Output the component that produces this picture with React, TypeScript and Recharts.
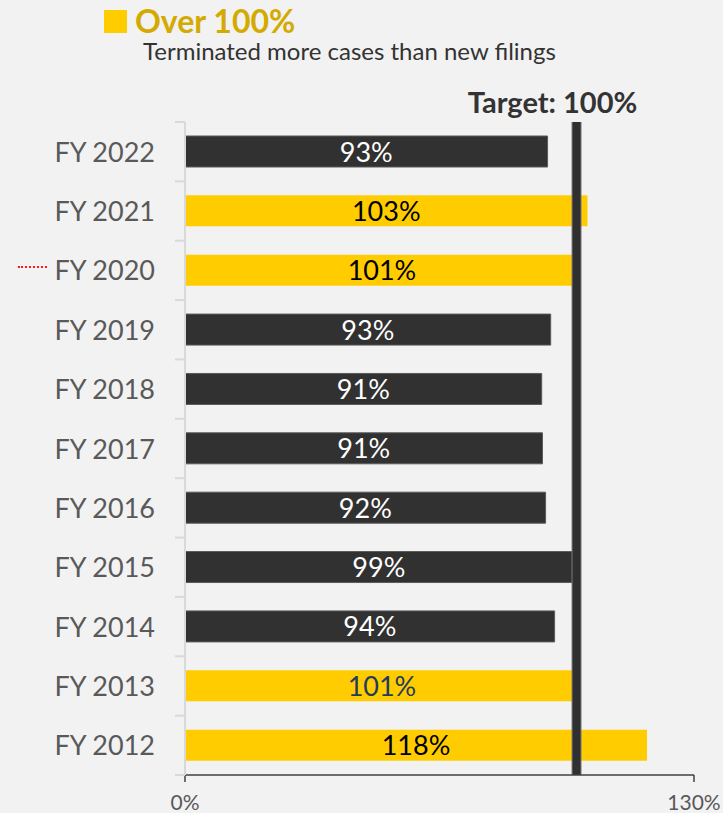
import { Bar, BarChart, Cell, LabelList, ReferenceLine, XAxis, YAxis } from "recharts";

const categories = [
  "FY 2022",
  "FY 2021",
  "FY 2020",
  "FY 2019",
  "FY 2018",
  "FY 2017",
  "FY 2016",
  "FY 2015",
  "FY 2014",
  "FY 2013",
  "FY 2012",
];

// bar lengths (labels show the rounded value)
const clearanceRates = [92.6, 102.8, 100.6, 93.4, 91.1, 91.3, 92.1, 99.0, 94.4, 100.6, 118.0];

const xTicks = [0, 130];
const target = 100;
const navyLabelYears = ["FY 2013"];

const data = categories.map((year, i) => ({ year, rate: clearanceRates[i] }));

const W = 723;
const H = 813;
const MARGIN = { top: 122, right: 29, bottom: 8, left: 0 };
const X_AXIS_H = 30;
const PLOT_H = H - MARGIN.top - MARGIN.bottom - X_AXIS_H;
const FONT = "Lato, 'Open Sans', sans-serif";

const DARK = "#313131";
const YELLOW = "#FFCC00";

function YTick(props: any) {
  const { x, y, payload, index } = props;
  const band = PLOT_H / categories.length;
  const last = index === categories.length - 1;
  return (
    <g>
      <line x1={x - 10} x2={x} y1={y - band / 2} y2={y - band / 2} stroke="#d9d9d9" strokeWidth={2} />
      {last && <line x1={x - 10} x2={x} y1={y + band / 2} y2={y + band / 2} stroke="#d9d9d9" strokeWidth={2} />}
      <text x={x - 30} y={y + 10} textAnchor="end" fontFamily={FONT} fontSize={27} fill="#595959">
        {payload.value}
      </text>
    </g>
  );
}

function XTick(props: any) {
  const { x, y, payload } = props;
  return (
    <text x={x} y={y + 26} textAnchor="middle" fontFamily={FONT} fontSize={21} fill="#595959">
      {`${payload.value}%`}
    </text>
  );
}

function BarLabel(props: any) {
  const { x, y, width, height, value, index } = props;
  const over = value > target;
  const fill = !over ? "#ffffff" : navyLabelYears.includes(categories[index]) ? "#243a5e" : "#000000";
  return (
    <text
      x={x + width / 2}
      y={y + height / 2 + 10}
      textAnchor="middle"
      fontFamily={FONT}
      fontSize={27}
      fill={fill}
    >
      {`${Math.round(value)}%`}
    </text>
  );
}

function TargetLabel(props: any) {
  const { viewBox } = props;
  return (
    <text
      x={viewBox.x - 24}
      y={viewBox.y - 9}
      textAnchor="middle"
      fontFamily={FONT}
      fontSize={29}
      fontWeight="bold"
      fill="#333333"
    >
      Target: 100%
    </text>
  );
}

export default function App() {
  return (
    <div style={{ position: "absolute", left: 0, top: 0, width: W, height: H, background: "#f2f2f2", overflow: "hidden" }}>
      <svg width={W} height={70} style={{ position: "absolute", left: 0, top: 0 }}>
        <rect x={104} y={10} width={23} height={23} fill={YELLOW} />
        <text x={135} y={33} fontFamily={FONT} fontSize={32} fontWeight="bold" fill="#D4AA00">
          Over 100%
        </text>
        <text x={143} y={60} fontFamily={FONT} fontSize={24} fill="#333333">
          Terminated more cases than new filings
        </text>
      </svg>
      <div
        style={{ position: "absolute", left: 18, top: 266, width: 29, borderTop: "2px dotted #ff1a1a" }}
      />
      <BarChart width={W} height={H} data={data} layout="vertical" margin={MARGIN} barSize={31}>
        <XAxis
          type="number"
          domain={[0, 130]}
          ticks={xTicks}
          height={X_AXIS_H}
          axisLine={{ stroke: "#404040", strokeWidth: 1.5 }}
          tickLine={{ stroke: "#404040", strokeWidth: 1.5 }}
          tickSize={7}
          tickMargin={2}
          tick={<XTick />}
          allowDataOverflow
        />
        <YAxis
          type="category"
          dataKey="year"
          width={185}
          axisLine={{ stroke: "#d9d9d9", strokeWidth: 2 }}
          tickLine={false}
          tickSize={0}
          tickMargin={0}
          tick={<YTick />}
          interval={0}
        />
        <Bar dataKey="rate" isAnimationActive={false}>
          {data.map((d, i) => (
            <Cell
              key={i}
              fill={d.rate > target ? YELLOW : DARK}
              stroke={d.rate > target ? "none" : "#5a5a5a"}
              strokeWidth={1}
            />
          ))}
          <LabelList dataKey="rate" content={<BarLabel />} />
        </Bar>
        <ReferenceLine x={target} stroke="#7a7a7a" strokeWidth={10} />
        <ReferenceLine x={target} stroke="#303030" strokeWidth={8} label={<TargetLabel />} />
      </BarChart>
    </div>
  );
}
